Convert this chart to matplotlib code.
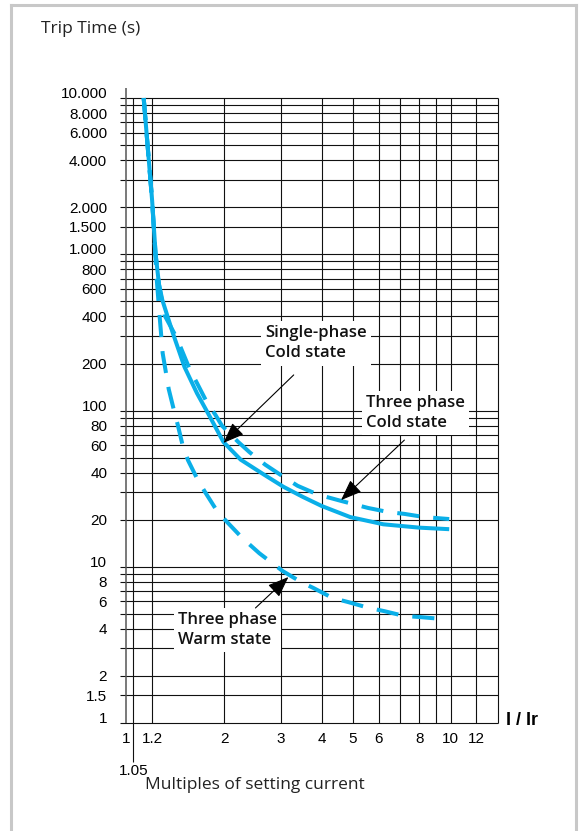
import matplotlib.pyplot as plt
from matplotlib.lines import Line2D

plt.rcParams['font.family'] = ['Liberation Sans', 'DejaVu Sans']

# curves: multiples of setting current vs trip time (s)
x_single = [1.13, 1.2, 1.23, 1.26, 1.29, 1.39, 1.51, 1.65, 1.81, 1.99, 2.25,
            2.65, 3.05, 3.5, 4.0, 4.9, 6.2, 8.0, 9.9]
y_single = [10000, 2200, 1000, 640, 510, 313, 190, 129, 91, 63, 48.5,
            39, 32.5, 28, 24.5, 20.8, 18.7, 17.8, 17.4]

x_cold3 = [1.13, 1.2, 1.23, 1.26, 1.31, 1.43, 1.57, 1.65, 1.77, 1.88, 1.97,
           2.21, 2.4, 2.68, 3.03, 3.37, 3.89, 4.59, 5.56, 6.42, 7.2, 8.3, 9.9]
y_cold3 = [10000, 2200, 1000, 640, 408, 291, 182, 150, 113, 94, 80,
           63, 54, 45, 38, 33, 29, 26.4, 23.8, 22.4, 21.8, 20.8, 20.2]

x_warm = [1.13, 1.2, 1.24, 1.266, 1.293, 1.35, 1.40, 1.44, 1.49, 1.547, 1.66,
          1.747, 1.904, 2.045, 2.275, 2.57, 3.03, 3.45, 3.78, 4.33, 4.82, 5.6,
          6.24, 7.2, 8.0, 9.45]
y_warm = [10000, 2200, 690, 397, 233, 137, 101, 80.7, 60, 48.2, 35.9,
          30.1, 22.7, 19.3, 15.3, 12.2, 9.4, 8.0, 7.3, 6.3, 5.95, 5.45,
          5.2, 4.84, 4.77, 4.63]

x_grid = [1.05, 1.2, 2, 3, 4, 5, 6, 7, 8, 9, 10, 12, 14]
x_ticks = [1, 1.2, 2, 3, 4, 5, 6, 8, 10, 12]
x_tick_labels = ['1', '1.2', '2', '3', '4', '5', '6', '8', '10', '12']

y_grid = ([1, 1.5] + list(range(2, 10)) + list(range(10, 100, 10))
          + list(range(100, 1000, 100)) + [1000, 1500]
          + list(range(2000, 10001, 1000)))
y_ticks = [10000, 8000, 6000, 4000, 2000, 1500, 1000, 800, 600, 400, 200,
           100, 80, 60, 40, 20, 10, 8, 6, 4, 2, 1.5, 1]
y_tick_labels = ['10.000', '8.000', '6.000', '4.000', '2.000', '1.500', '1.000',
                 '800', '600', '400', '200', '100', '80', '60', '40', '20',
                 '10', '8', '6', '4', '2', '1.5', '1']

blue = '#0AAFE8'
xmin, xmax = 0.955, 14
ymin, ymax = 1, 11600

fig = plt.figure(figsize=(5.84, 8.31), dpi=100)
ax = fig.add_axes([120 / 584, 108 / 831, 378 / 584, 635 / 831])
ax.set_xscale('log')
ax.set_yscale('log')
ax.set_xlim(xmin, xmax)
ax.set_ylim(ymin, ymax)
for s in ax.spines.values():
    s.set_visible(False)
ax.set_xticks([])
ax.set_yticks([])
ax.minorticks_off()

# grid
ax.hlines(y_grid, xmin, xmax, color='#111111', lw=0.8, zorder=1, clip_on=False)
ax.vlines(x_grid, 1, 10000, color='#111111', lw=0.8, zorder=1, clip_on=False)
ax.vlines(1, 1, ymax, color='#555555', lw=1.1, zorder=1, clip_on=False)
ax.vlines(1.05, 0.565, 1, color='#111111', lw=0.8, zorder=1, clip_on=False)

# tick labels
for v, lbl in zip(y_ticks, y_tick_labels):
    va = 'baseline' if lbl in ('10.000', '1.000', '100', '10', '1') else 'center_baseline'
    ax.text(-0.034, v, lbl, transform=ax.get_yaxis_transform(), ha='right',
            va=va, fontsize=11)
for v, lbl in zip(x_ticks, x_tick_labels):
    ax.text(v, -0.014, lbl, transform=ax.get_xaxis_transform(), ha='center',
            va='top', fontsize=11)
ax.text(1.05, -0.064, '1.05', transform=ax.get_xaxis_transform(), ha='center',
        va='top', fontsize=11)

# curves
ax.plot(x_single, y_single, color=blue, lw=2.9, zorder=3, solid_capstyle='butt')
ax.plot(x_cold3, y_cold3, color=blue, lw=2.9, zorder=3, dashes=(5.5, 3.5))
ax.plot(x_warm, y_warm, color=blue, lw=2.9, zorder=3, dashes=(5.5, 3.5))

# labels with white boxes and arrows
box = dict(boxstyle='square,pad=0.25', facecolor='white', edgecolor='none')
tf = dict(fontsize=12, fontweight='semibold', family=['Open Sans', 'DejaVu Sans'],
          color='#111111', linespacing=1.35, bbox=box, zorder=2)
ax.text(2.68, 352, 'Single-phase\nCold state', ha='left', va='top', **tf)
ax.text(5.48, 126, 'Three phase\nCold state', ha='left', va='top', **tf)
ax.text(1.44, 5.13, 'Three phase\nWarm state', ha='left', va='top', **tf)

ap = dict(arrowstyle='-|>,head_length=0.65,head_width=0.25', mutation_scale=20,
          color='black', lw=0.8, shrinkA=0, shrinkB=0)
ax.annotate('', xy=(1.99, 62), xytext=(3.28, 169), arrowprops=ap, zorder=4)
ax.annotate('', xy=(4.59, 26.7), xytext=(7.2, 64.7), arrowprops=ap, zorder=4)
ax.annotate('', xy=(3.16, 8.6), xytext=(2.5, 5.45), arrowprops=ap, zorder=4)

# axis titles
fig.text(506 / 584, 1 - 725 / 831, 'I / Ir', fontsize=13, fontweight='bold',
         ha='left', va='baseline')
fig.text(41 / 584, 1 - 33 / 831, 'Trip Time (s)', fontsize=12.5,
         family=['Open Sans', 'DejaVu Sans'], color='#222222', va='baseline')
fig.text(145 / 584, 1 - 789 / 831, 'Multiples of setting current', fontsize=12.5,
         family=['Open Sans', 'DejaVu Sans'], color='#222222', va='baseline')

# light frame around the figure
frame = dict(color='#C8C8C8', lw=2.2, transform=fig.transFigure)
fig.add_artist(Line2D([10.5 / 584, 10.5 / 584], [0, 1 - 5 / 831], **frame))
fig.add_artist(Line2D([10.5 / 584, 575.5 / 584], [1 - 5 / 831, 1 - 5 / 831], **frame))
fig.add_artist(Line2D([575.5 / 584, 575.5 / 584], [1 - 5 / 831, 0], **frame))

fig.savefig('out.png', dpi=100)
